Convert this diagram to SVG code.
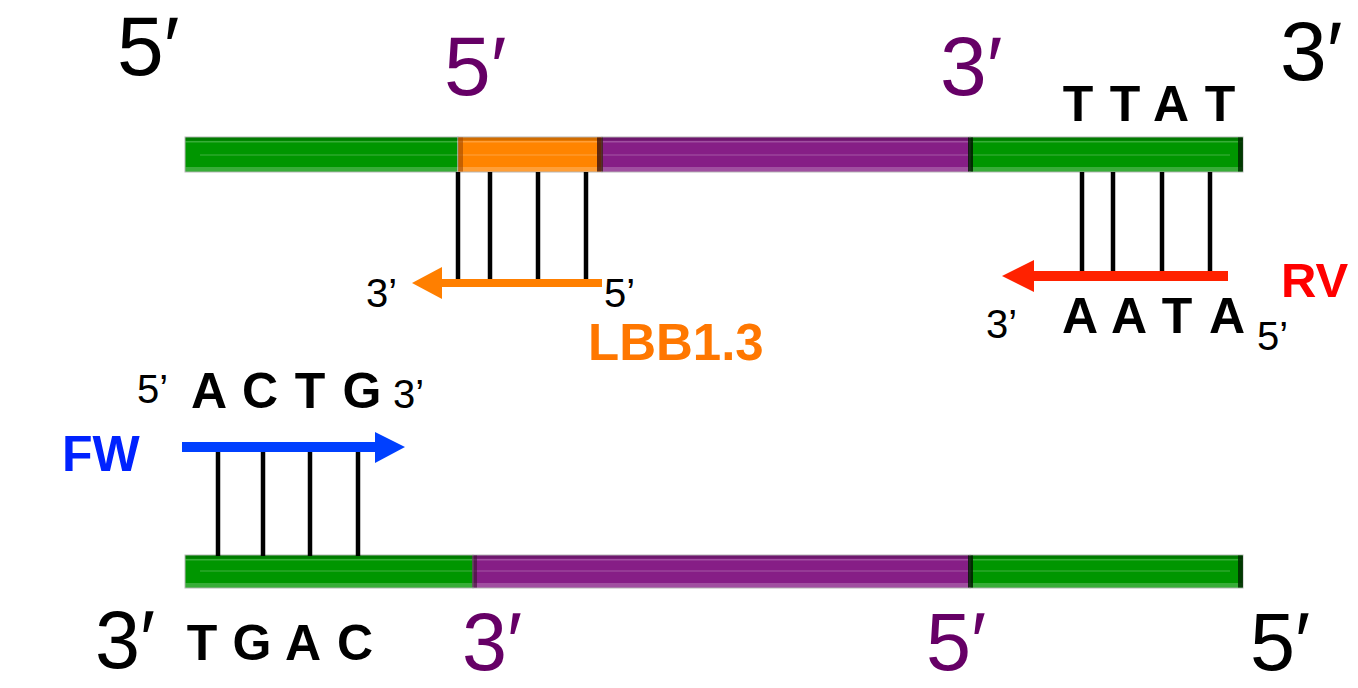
<svg xmlns="http://www.w3.org/2000/svg" width="1358" height="688" viewBox="0 0 1358 688">
  <defs>
    <filter id="sh" x="-5%" y="-200%" width="110%" height="500%">
      <feDropShadow dx="0" dy="3" stdDeviation="2" flood-color="#000" flood-opacity="0.35"/>
    </filter>
  </defs>
  <style>
    text { font-family: "Liberation Sans", Arial, sans-serif; }
    .big { font-size: 84px; }
    .bigb { font-size: 81px; }
    .sm { font-size: 40px; fill: #000; }
    .b { font-weight: bold; font-size: 50px; fill: #000; text-anchor: middle; }
    .pur { fill: #660066; }
    .blk { fill: #000; }
    .strand { stroke: #6699CC; stroke-width: 3.5; fill: none; }
    .edge { stroke: #b8b8b8; stroke-width: 1; }
    .g { fill: #009600; }
    .o { fill: #FF8400; }
    .p { fill: #861E86; }
    .hl { fill: #ffffff; opacity: 0.22; }
    .dk { fill: #000000; opacity: 0.18; }
    .mid { stroke: #ffffff; stroke-opacity: 0.25; stroke-width: 1; }
    .bond { stroke: #000; stroke-width: 4.5; }
  </style>

  <!-- Top strand -->
  <g id="top-strand">
    <line class="strand" x1="10" y1="155" x2="1355" y2="155" filter="url(#sh)"/>
    <rect class="g edge" x="185" y="137" width="273" height="35"/>
    <rect class="o edge" x="458" y="137" width="144" height="35"/>
    <rect class="p edge" x="602" y="137" width="368" height="35"/>
    <rect class="g edge" x="970" y="137" width="273" height="35"/>
    <rect class="dk" x="185.5" y="137.5" width="1057" height="3"/>
    <rect class="hl" x="185.5" y="141" width="1057" height="1.5"/>
    <rect class="hl" x="185.5" y="167" width="1057" height="4.5"/>
    <line class="mid" x1="200" y1="155" x2="1230" y2="155"/>
    <rect x="458" y="137.5" width="5" height="34" fill="#A04800" opacity="0.6"/>
    <rect x="597" y="137.5" width="6" height="34" fill="#3a1010" opacity="0.8"/>
    <rect x="968" y="137.5" width="5" height="34" fill="#001a00" opacity="0.85"/>
    <rect x="1238" y="137.5" width="5" height="34" fill="#002a00" opacity="0.85"/>
  </g>

  <!-- Bottom strand -->
  <g id="bottom-strand">
    <line class="strand" x1="10" y1="571" x2="1355" y2="571" filter="url(#sh)"/>
    <rect class="g edge" x="185" y="555" width="288" height="33"/>
    <rect class="p edge" x="473" y="555" width="497" height="33"/>
    <rect class="g edge" x="970" y="555" width="273" height="33"/>
    <rect class="dk" x="185.5" y="555.5" width="1057" height="3"/>
    <rect class="hl" x="185.5" y="559" width="1057" height="1.5"/>
    <rect class="hl" x="185.5" y="583" width="1057" height="4.5"/>
    <line class="mid" x1="200" y1="571" x2="1230" y2="571"/>
    <rect x="472" y="555.5" width="5" height="32" fill="#3a1030" opacity="0.6"/>
    <rect x="968" y="555.5" width="5" height="32" fill="#001a00" opacity="0.85"/>
    <rect x="1238" y="555.5" width="5" height="32" fill="#002a00" opacity="0.85"/>
  </g>

  <!-- Strand end labels -->
  <g id="labels-top">
    <text class="big blk" x="117" y="75">5′</text>
    <text class="big pur" x="444" y="95">5′</text>
    <text class="big pur" x="940" y="95">3′</text>
    <text class="big blk" x="1280" y="80">3′</text>
  </g>
  <g id="labels-bottom">
    <text class="bigb blk" x="95" y="668">3′</text>
    <text class="bigb pur" x="462" y="670">3′</text>
    <text class="bigb pur" x="926" y="670">5′</text>
    <text class="bigb blk" x="1250" y="670">5′</text>
  </g>

  <!-- Connectors: base-pair bonds and primer arrows -->
  <g id="connectors">
    <line class="bond" x1="458" y1="172" x2="458" y2="280"/>
    <line class="bond" x1="490" y1="172" x2="490" y2="280"/>
    <line class="bond" x1="538" y1="172" x2="538" y2="280"/>
    <line class="bond" x1="586" y1="172" x2="586" y2="280"/>

    <line class="bond" x1="1082" y1="172" x2="1082" y2="273"/>
    <line class="bond" x1="1113" y1="172" x2="1113" y2="273"/>
    <line class="bond" x1="1162" y1="172" x2="1162" y2="273"/>
    <line class="bond" x1="1210" y1="172" x2="1210" y2="273"/>

    <line class="bond" x1="218" y1="450" x2="218" y2="556"/>
    <line class="bond" x1="263" y1="450" x2="263" y2="556"/>
    <line class="bond" x1="310" y1="450" x2="310" y2="556"/>
    <line class="bond" x1="358" y1="450" x2="358" y2="556"/>

    <path d="M602,279 L442,279 L442,267 L412,283 L442,299 L442,287 L602,287 Z" fill="#FF7F00"/>
    <path d="M1228,271 L1034,271 L1034,260 L1002,276 L1034,292 L1034,281 L1228,281 Z" fill="#FF2200"/>
    <path d="M182,442 L375,442 L375,432 L405,447 L375,463 L375,452 L182,452 Z" fill="#0040FF"/>
  </g>

  <!-- Primer LBB1.3 -->
  <g id="primer-lbb">
    <text class="sm" x="366" y="307">3’</text>
    <text class="sm" x="604" y="307">5’</text>
    <text x="588" y="360" font-weight="bold" font-size="51" fill="#FF7700">LBB1.3</text>
  </g>

  <!-- Primer RV -->
  <g id="primer-rv">
    <text class="b" x="1078" y="121">T</text>
    <text class="b" x="1125" y="121">T</text>
    <text class="b" x="1171" y="121">A</text>
    <text class="b" x="1220" y="121">T</text>
    <text class="b" x="1080" y="333">A</text>
    <text class="b" x="1129" y="333">A</text>
    <text class="b" x="1177" y="333">T</text>
    <text class="b" x="1227" y="333">A</text>
    <text class="sm" x="986" y="338">3’</text>
    <text class="sm" x="1257" y="350">5’</text>
    <text x="1281" y="297" font-weight="bold" font-size="49" fill="#FF0000">RV</text>
  </g>

  <!-- Primer FW -->
  <g id="primer-fw">
    <text class="sm" x="137" y="403">5’</text>
    <text class="b" x="209" y="408">A</text>
    <text class="b" x="260" y="408">C</text>
    <text class="b" x="310" y="408">T</text>
    <text class="b" x="362" y="408">G</text>
    <text class="sm" x="393" y="408">3’</text>
    <text x="62" y="471" font-weight="bold" font-size="50" fill="#0022FF">FW</text>
    <text class="b" x="202" y="660">T</text>
    <text class="b" x="252" y="660">G</text>
    <text class="b" x="303" y="660">A</text>
    <text class="b" x="355" y="660">C</text>
  </g>
</svg>
